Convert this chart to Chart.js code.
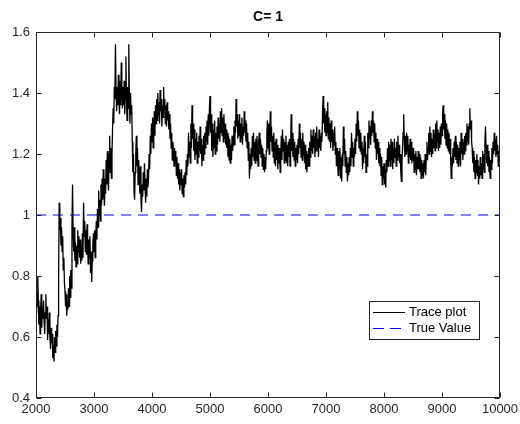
<!DOCTYPE html>
<html>
<head>
<meta charset="utf-8">
<script src="https://cdn.jsdelivr.net/npm/chart.js@4.4.1/dist/chart.umd.min.js"></script>
<style>
html, body { margin: 0; padding: 0; background: #fff; }
canvas { display: block; }
</style>
</head>
<body>
<canvas id="trace" width="520" height="424"></canvas>
<script>
// sampling of the trace: one value every 10 iterations, from 2000 to 10000
var iterStart = 2000;
var iterStep = 10;

var trace2000 = [0.68,0.74,0.70,0.80,0.72,0.64,0.70,0.61,0.69,0.74, 0.63,0.70,0.66,0.72,0.65,0.61,0.68,0.74,0.66,0.70,
	0.59,0.66,0.61,0.68,0.60,0.56,0.63,0.58,0.61,0.53, 0.57,0.52,0.60,0.55,0.62,0.57,0.64,0.60,0.67,0.80,
	1.04,0.95,0.99,0.90,0.96,0.88,0.93,0.82,0.86,0.78];
var trace2500 = [0.75,0.70,0.74,0.67,0.72,0.69,0.76,0.70,0.80,0.73, 0.82,0.76,0.96,1.10,0.94,0.88,0.96,0.85,0.91,0.83,
	0.90,0.84,0.95,0.88,0.93,0.86,0.92,0.84,0.90,0.85, 0.94,0.86,1.04,0.93,0.98,0.88,0.95,0.87,0.97,0.90,
	0.84,0.92,0.86,0.93,0.81,0.88,0.78,0.85,0.90,0.94];
var trace3000 = [0.88,0.95,0.86,0.93,0.98,0.92,1.02,0.96,1.08,1.00, 1.05,0.98,1.10,1.03,1.12,1.05,1.15,1.08,1.03,1.12,
	1.07,1.18,1.10,1.21,1.12,1.08,1.20,1.26,1.14,1.22, 1.12,1.20,1.28,1.35,1.30,1.42,1.38,1.56,1.40,1.34,
	1.42,1.36,1.46,1.38,1.33,1.44,1.36,1.50,1.40,1.35];
var trace3500 = [1.42,1.36,1.44,1.33,1.40,1.52,1.38,1.31,1.42,1.35, 1.56,1.38,1.30,1.40,1.33,1.36,1.24,1.14,1.20,1.08,
	1.05,1.14,1.20,1.26,1.16,1.22,1.10,1.18,1.13,1.07, 1.16,1.05,1.01,1.10,1.06,1.14,1.08,1.17,1.10,1.04,
	1.12,1.06,1.15,1.09,1.12,1.20,1.15,1.26,1.20,1.30];
var trace4000 = [1.24,1.32,1.22,1.28,1.34,1.26,1.36,1.30,1.38,1.31, 1.40,1.33,1.37,1.30,1.41,1.34,1.38,1.29,1.36,1.32,
	1.42,1.35,1.38,1.30,1.36,1.29,1.37,1.31,1.34,1.28, 1.33,1.25,1.30,1.22,1.27,1.18,1.24,1.20,1.16,1.22,
	1.17,1.21,1.13,1.19,1.12,1.17,1.10,1.15,1.08,1.14];
var trace4500 = [1.10,1.15,1.07,1.12,1.06,1.13,1.09,1.14,1.10,1.18, 1.13,1.20,1.16,1.27,1.19,1.24,1.17,1.30,1.22,1.36,
	1.25,1.30,1.21,1.28,1.18,1.25,1.20,1.27,1.17,1.24, 1.19,1.26,1.21,1.29,1.20,1.25,1.16,1.23,1.18,1.26,
	1.20,1.27,1.22,1.29,1.24,1.31,1.23,1.33,1.26,1.35];
var trace5000 = [1.39,1.27,1.33,1.21,1.30,1.19,1.28,1.22,1.31,1.20, 1.27,1.21,1.29,1.23,1.32,1.25,1.30,1.24,1.34,1.27,
	1.35,1.26,1.32,1.24,1.33,1.25,1.30,1.23,1.28,1.22, 1.27,1.19,1.26,1.18,1.25,1.17,1.23,1.18,1.26,1.21,
	1.24,1.29,1.23,1.31,1.27,1.38,1.29,1.33,1.25,1.31];
var trace5500 = [1.26,1.33,1.24,1.30,1.25,1.32,1.23,1.29,1.26,1.34, 1.27,1.31,1.24,1.30,1.22,1.27,1.18,1.24,1.12,1.20,
	1.15,1.22,1.16,1.26,1.19,1.27,1.18,1.24,1.17,1.25, 1.18,1.26,1.20,1.16,1.24,1.27,1.20,1.25,1.19,1.23,
	1.16,1.22,1.15,1.20,1.14,1.19,1.15,1.21,1.26,1.31];
var trace6000 = [1.22,1.30,1.20,1.27,1.34,1.24,1.29,1.21,1.26,1.19, 1.27,1.17,1.24,1.16,1.25,1.18,1.23,1.15,1.22,1.17,
	1.22,1.14,1.20,1.26,1.18,1.28,1.21,1.25,1.17,1.24, 1.18,1.26,1.17,1.23,1.16,1.24,1.19,1.25,1.16,1.22,
	1.33,1.21,1.27,1.19,1.25,1.18,1.24,1.16,1.22,1.18];
var trace6500 = [1.23,1.17,1.25,1.20,1.30,1.22,1.27,1.19,1.25,1.18, 1.27,1.20,1.24,1.17,1.23,1.15,1.21,1.14,1.20,1.16,
	1.22,1.16,1.24,1.19,1.28,1.21,1.26,1.20,1.28,1.22, 1.26,1.19,1.27,1.21,1.29,1.22,1.25,1.19,1.28,1.22,
	1.26,1.21,1.27,1.24,1.33,1.39,1.30,1.35,1.27,1.33];
var trace7000 = [1.26,1.34,1.27,1.37,1.25,1.32,1.24,1.30,1.22,1.31, 1.24,1.28,1.21,1.27,1.23,1.29,1.20,1.24,1.16,1.22,
	1.18,1.13,1.21,1.15,1.22,1.12,1.19,1.11,1.20,1.16, 1.29,1.20,1.25,1.16,1.21,1.14,1.19,1.11,1.17,1.13,
	1.19,1.14,1.22,1.16,1.27,1.19,1.24,1.16,1.22,1.19];
var trace7500 = [1.25,1.20,1.30,1.24,1.34,1.26,1.31,1.22,1.28,1.21, 1.27,1.20,1.24,1.15,1.22,1.17,1.26,1.19,1.24,1.14,
	1.20,1.16,1.27,1.22,1.31,1.25,1.29,1.23,1.31,1.26, 1.34,1.27,1.31,1.24,1.30,1.22,1.27,1.18,1.25,1.20,
	1.24,1.17,1.22,1.16,1.20,1.13,1.19,1.10,1.16,1.12];
var trace8000 = [1.17,1.10,1.15,1.09,1.18,1.14,1.22,1.16,1.24,1.18, 1.23,1.16,1.25,1.18,1.24,1.15,1.22,1.17,1.25,1.19,
	1.22,1.16,1.24,1.18,1.26,1.19,1.23,1.17,1.20,1.14, 1.11,1.18,1.22,1.27,1.33,1.24,1.19,1.26,1.20,1.27,
	1.21,1.26,1.17,1.23,1.19,1.25,1.18,1.24,1.17,1.22];
var trace8500 = [1.18,1.22,1.14,1.20,1.15,1.21,1.13,1.19,1.15,1.21, 1.15,1.20,1.14,1.19,1.12,1.18,1.13,1.17,1.12,1.18,
	1.14,1.20,1.13,1.19,1.24,1.18,1.22,1.27,1.20,1.29, 1.21,1.27,1.19,1.25,1.20,1.28,1.22,1.27,1.21,1.30,
	1.22,1.31,1.24,1.28,1.21,1.27,1.22,1.29,1.23,1.30];
var trace9000 = [1.26,1.33,1.36,1.28,1.33,1.25,1.31,1.23,1.30,1.22, 1.28,1.21,1.27,1.20,1.25,1.18,1.12,1.19,1.16,1.22,
	1.17,1.24,1.19,1.26,1.18,1.24,1.17,1.23,1.16,1.22, 1.18,1.24,1.16,1.27,1.20,1.25,1.18,1.24,1.20,1.26,
	1.21,1.27,1.23,1.30,1.24,1.29,1.23,1.30,1.35,1.28];
var trace9500 = [1.31,1.24,1.22,1.17,1.21,1.14,1.19,1.12,1.18,1.14, 1.20,1.13,1.18,1.10,1.16,1.12,1.19,1.13,1.17,1.12,
	1.21,1.15,1.20,1.14,1.24,1.29,1.22,1.17,1.23,1.16, 1.21,1.14,1.19,1.12,1.18,1.15,1.22,1.17,1.24,1.20,
	1.27,1.21,1.25,1.19,1.26,1.20,1.23,1.16,1.21,1.17, 1.20];

var trueValue = 1;
var xRange = [2000, 10000];
var xTicks = [2000, 3000, 4000, 5000, 6000, 7000, 8000, 9000, 10000];
var yTicks = [0.4, 0.6, 0.8, 1.0, 1.2, 1.4, 1.6];
var yTickLabels = ["0.4", "0.6", "0.8", "1", "1.2", "1.4", "1.6"];

var traceValues = [].concat(trace2000, trace2500, trace3000, trace3500, trace4000, trace4500,
	trace5000, trace5500, trace6000, trace6500, trace7000, trace7500,
	trace8000, trace8500, trace9000, trace9500);

var tracePoints = traceValues.map(function(v, i) {
	return { x: iterStart + i * iterStep, y: v };
});

var FONT = '"Liberation Sans", Arial, Helvetica, sans-serif';
var AXIS = "#262626";

// MATLAB like box: frame, inward ticks on all sides, title and legend
var matlabAxes = {
	id: "matlabAxes",
	afterDraw: function(chart) {
		var ctx = chart.ctx;
		var a = chart.chartArea;
		var xs = chart.scales.x, ys = chart.scales.y;
		var L = Math.round(a.left) + 0.5, R = Math.round(a.right) - 0.5;
		var T = Math.round(a.top) + 0.5, B = Math.round(a.bottom) - 0.5;
		ctx.save();
		ctx.strokeStyle = AXIS;
		ctx.lineWidth = 1;
		ctx.setLineDash([]);
		ctx.strokeRect(L, T, R - L, B - T);
		ctx.beginPath();
		xTicks.forEach(function(t) {
			var px = Math.round(xs.getPixelForValue(t)) + 0.5;
			ctx.moveTo(px, B); ctx.lineTo(px, B - 5);
			ctx.moveTo(px, T); ctx.lineTo(px, T + 5);
		});
		yTicks.forEach(function(t) {
			var py = Math.round(ys.getPixelForValue(t)) + 0.5;
			ctx.moveTo(L, py); ctx.lineTo(L + 5, py);
			ctx.moveTo(R, py); ctx.lineTo(R - 5, py);
		});
		ctx.stroke();

		// title
		ctx.fillStyle = "#000";
		ctx.font = "bold 14px " + FONT;
		ctx.textAlign = "center";
		ctx.textBaseline = "middle";
		ctx.fillText("C= 1", (a.left + a.right) / 2, 17);

		// legend
		ctx.fillStyle = "#fff";
		ctx.fillRect(369.5, 301.5, 110, 38);
		ctx.strokeStyle = AXIS;
		ctx.strokeRect(369.5, 301.5, 110, 38);
		ctx.beginPath();
		ctx.strokeStyle = "#000";
		ctx.moveTo(373, 312.5); ctx.lineTo(405, 312.5);
		ctx.stroke();
		ctx.beginPath();
		ctx.strokeStyle = "#0000ff";
		ctx.setLineDash([11, 6]);
		ctx.moveTo(373, 328.5); ctx.lineTo(405, 328.5);
		ctx.stroke();
		ctx.setLineDash([]);
		ctx.fillStyle = "#000";
		ctx.font = "13px " + FONT;
		ctx.textAlign = "left";
		ctx.fillText("Trace plot", 409, 312);
		ctx.fillText("True Value", 409, 328);
		ctx.restore();
	}
};

function noPad(scale) {
	scale.paddingLeft = 0; scale.paddingRight = 0;
	scale.paddingTop = 0; scale.paddingBottom = 0;
}

new Chart(document.getElementById("trace"), {
	type: "line",
	data: {
		datasets: [{
			label: "Trace plot",
			data: tracePoints,
			borderColor: "#000",
			borderWidth: 1.3,
			pointRadius: 0,
			tension: 0,
			fill: false
		}, {
			label: "True Value",
			data: [{ x: xRange[0], y: trueValue }, { x: xRange[1], y: trueValue }],
			borderColor: "#0000ff",
			borderWidth: 1,
			borderDash: [10, 7],
			pointRadius: 0,
			fill: false
		}]
	},
	options: {
		responsive: false,
		animation: false,
		events: [],
		layout: { padding: { left: 0, right: 20, top: 32, bottom: 0 } },
		plugins: {
			legend: { display: false },
			title: { display: false },
			tooltip: { enabled: false }
		},
		scales: {
			x: {
				type: "linear",
				min: xRange[0],
				max: xRange[1],
				grid: { display: false, drawTicks: false },
				border: { display: false },
				afterBuildTicks: function(s) { s.ticks = xTicks.map(function(v) { return { value: v }; }); },
				afterFit: function(s) { s.height = 26; noPad(s); },
				ticks: {
					autoSkip: false,
					maxRotation: 0,
					padding: 4,
					color: AXIS,
					font: { family: FONT, size: 13 },
					callback: function(v) { return String(v); }
				}
			},
			y: {
				min: yTicks[0],
				max: yTicks[yTicks.length - 1],
				grid: { display: false, drawTicks: false },
				border: { display: false },
				afterBuildTicks: function(s) { s.ticks = yTicks.map(function(v) { return { value: v }; }); },
				afterFit: function(s) { s.width = 36; noPad(s); },
				ticks: {
					autoSkip: false,
					padding: 6,
					color: AXIS,
					font: { family: FONT, size: 13 },
					callback: function(v, i) { return yTickLabels[i]; }
				}
			}
		}
	},
	plugins: [matlabAxes]
});
</script>
</body>
</html>
